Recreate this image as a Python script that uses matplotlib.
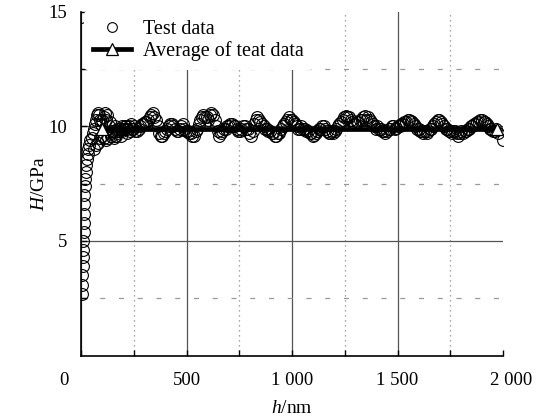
import matplotlib
matplotlib.use("Agg")
import matplotlib.pyplot as plt
from matplotlib.lines import Line2D
from matplotlib.transforms import ScaledTranslation

plt.rcParams['font.family'] = ['Liberation Serif', 'DejaVu Serif']
plt.rcParams['mathtext.fontset'] = 'custom'
plt.rcParams['mathtext.rm'] = 'Liberation Serif'
plt.rcParams['mathtext.it'] = 'Liberation Serif:italic'

# ---------------- data ----------------
# outlier near origin
h_out = [2]
H_out = [14.8]

# loading ramp (two overlapping tests)
h_ramp = [5, 6, 7, 8, 9, 10, 11, 12, 13, 14, 15, 16, 18, 20, 22, 25, 28, 31,
          35, 40, 45, 50, 55, 60, 65, 70, 75, 80, 85, 90, 95]
H_ramp = [2.7, 3.1, 3.5, 3.9, 4.3, 4.6, 5.0, 5.4, 5.8, 6.2, 6.6, 7.0, 7.4, 7.7,
          8.0, 8.3, 8.6, 8.8, 9.0, 9.2, 9.4, 9.5, 9.7, 9.9, 10.1, 10.3, 10.5,
          10.6, 10.5, 10.3, 10.1]

h_ramp2 = [60, 70, 80, 90, 100, 110, 120, 130, 140, 150, 160, 170, 180, 190,
           200, 215, 230, 245]
H_ramp2 = [9.0, 9.2, 9.3, 9.5, 9.6, 9.5, 9.4, 9.5, 9.6, 9.8, 10.0, 9.9, 9.8,
           9.6, 9.9, 10.0, 9.8, 9.9]

# plateau, test 1
h_flat = [100, 112, 124, 136, 148, 160, 172, 184, 196, 208,
          220, 235, 250, 265, 280, 295, 310, 325, 340, 355,
          370, 385, 400, 415, 430, 445, 460, 475, 490, 505,
          520, 535, 550, 565, 580, 595, 610, 625, 640, 655,
          670, 685, 700, 715, 730, 745, 760, 775, 790, 805,
          820, 835, 850, 865, 880, 895, 910, 925, 940, 955,
          970, 985, 1000, 1015, 1030, 1045, 1060, 1075, 1090, 1105,
          1120, 1135, 1150, 1165, 1180, 1195, 1210, 1225, 1240, 1255,
          1270, 1285, 1300, 1315, 1330, 1345, 1360, 1375, 1390, 1405,
          1420, 1435, 1450, 1465, 1480, 1495, 1510, 1525, 1540, 1555,
          1570, 1585, 1600, 1615, 1630, 1645, 1660, 1675, 1690, 1705,
          1720, 1735, 1750, 1765, 1780, 1795, 1810, 1825, 1840, 1855,
          1870, 1885, 1900, 1915, 1930, 1945, 1960, 1975, 2000]
H_flat = [10.3, 10.6, 10.5, 10.2, 9.8, 9.6, 9.7, 9.9, 9.8, 10.0,
          9.9, 10.1, 10.0, 9.8, 10.0, 10.1, 10.2, 10.4, 10.6, 10.3,
          9.7, 9.6, 9.8, 10.0, 10.1, 9.9, 9.8, 10.0, 9.9, 9.8,
          9.7, 9.6, 9.9, 10.3, 10.5, 10.4, 10.5, 10.5, 10.0, 9.6,
          9.8, 9.9, 10.0, 10.1, 10.0, 9.8, 9.9, 10.0, 9.9, 9.6,
          10.1, 10.4, 10.2, 10.0, 9.9, 9.8, 9.7, 9.6, 9.7, 10.0,
          10.2, 10.4, 10.3, 10.1, 9.9, 10.0, 9.9, 9.8, 9.7, 9.65,
          9.8, 9.9, 10.0, 9.8, 9.7, 9.7, 9.9, 10.1, 10.3, 10.45,
          10.4, 10.2, 10.1, 10.2, 10.3, 10.45, 10.4, 10.2, 10.0, 10.0,
          9.9, 9.8, 9.8, 9.9, 10.0, 9.95, 10.0, 10.1, 10.2, 10.3,
          10.2, 10.0, 9.9, 9.8, 9.8, 9.8, 9.9, 10.1, 10.3, 10.2,
          10.0, 9.9, 9.8, 9.8, 9.7, 9.7, 9.7, 9.8, 9.9, 10.0,
          10.1, 10.2, 10.3, 10.2, 10.0, 9.9, 9.8, 9.7, 9.4]

# plateau, test 2
h_flat2 = [108, 120, 132, 144, 156, 168, 180, 192, 204, 216,
           228, 243, 258, 273, 288, 303, 318, 333, 348, 363,
           378, 393, 408, 423, 438, 453, 468, 483, 498, 513,
           528, 543, 558, 573, 588, 603, 618, 633, 648, 663,
           678, 693, 708, 723, 738, 753, 768, 783, 798, 813,
           828, 843, 858, 873, 888, 903, 918, 933, 948, 963,
           978, 993, 1008, 1023, 1038, 1053, 1068, 1083, 1098, 1113,
           1128, 1143, 1158, 1173, 1188, 1203, 1218, 1233, 1248, 1263,
           1278, 1293, 1308, 1323, 1338, 1353, 1368, 1383, 1398, 1413,
           1428, 1443, 1458, 1473, 1488, 1503, 1518, 1533, 1548, 1563,
           1578, 1593, 1608, 1623, 1638, 1653, 1668, 1683, 1698, 1713,
           1728, 1743, 1758, 1773, 1788, 1803, 1818, 1833, 1848, 1863,
           1878, 1893, 1908, 1923, 1938, 1953, 1968]
H_flat2 = [10.4, 10.3, 10.0, 9.7, 9.5, 9.6, 9.8, 10.0, 9.9, 9.7,
           10.0, 9.9, 9.8, 9.9, 10.1, 10.2, 10.3, 10.5, 10.4, 10.0,
           9.6, 9.7, 9.9, 10.1, 10.0, 9.8, 9.9, 10.1, 9.8, 9.7,
           9.6, 9.8, 10.1, 10.4, 10.4, 10.3, 10.6, 10.3, 9.8, 9.7,
           9.9, 10.0, 10.1, 10.0, 9.9, 9.8, 10.0, 9.9, 9.7, 9.8,
           10.3, 10.3, 10.1, 9.9, 9.8, 9.7, 9.6, 9.7, 9.9, 10.1,
           10.3, 10.3, 10.2, 10.0, 9.9, 9.9, 9.8, 9.7, 9.6, 9.7,
           9.9, 10.0, 9.9, 9.7, 9.8, 9.8, 10.0, 10.2, 10.4, 10.4,
           10.3, 10.1, 10.2, 10.3, 10.4, 10.3, 10.3, 10.1, 9.9, 9.9,
           9.8, 9.7, 9.9, 10.0, 9.9, 10.0, 10.1, 10.2, 10.3, 10.25,
           10.1, 9.9, 9.8, 9.7, 9.7, 9.9, 10.0, 10.2, 10.3, 10.1,
           9.9, 9.8, 9.7, 9.8, 9.6, 9.8, 9.8, 9.9, 10.0, 10.1,
           10.2, 10.3, 10.2, 10.1, 9.9, 9.8, 9.9]

h_test = h_out + h_ramp + h_ramp2 + h_flat + h_flat2
H_test = H_out + H_ramp + H_ramp2 + H_flat + H_flat2

h_avg = [100, 1970]
H_avg = [9.9, 9.9]

x_ticks = [0, 500, 1000, 1500, 2000]
x_labels = ['0', '500', '1 000', '1 500', '2 000']
x_minor = [250, 750, 1250, 1750]
y_ticks = [5, 10, 15]
y_labels = ['5', '10', '15']
y_minor = [2.5, 7.5, 12.5]

# ---------------- figure ----------------
W, Hh = 542, 418
fig = plt.figure(figsize=(W / 100, Hh / 100), dpi=100)
ax = fig.add_axes([81 / W, 1 - 355.5 / Hh, (503 - 81) / W, (355.5 - 12) / Hh])

ax.set_xlim(0, 2000)
ax.set_ylim(0, 15)
ax.set_xticks(x_ticks)
ax.set_xticklabels(x_labels)
ax.set_xticks(x_minor, minor=True)
ax.set_yticks(y_ticks)
ax.set_yticklabels(y_labels)
ax.set_yticks(y_minor, minor=True)

for s in ['top', 'right']:
    ax.spines[s].set_visible(False)
ax.spines['left'].set_linewidth(1.2)
ax.spines['bottom'].set_linewidth(1.2)

ax.tick_params(which='both', direction='in', length=4.5, width=1.0,
               color='black', labelsize=13.5)
ax.tick_params(axis='x', which='major', pad=12)
ax.tick_params(axis='y', which='major', pad=10)

# grid
ax.grid(True, which='major', axis='both', color='#555555', lw=0.9, ls='-')
ax.grid(True, which='minor', axis='x', color='#888888', lw=0.9, ls=(0, (1, 3)))
ax.grid(True, which='minor', axis='y', color='#999999', lw=0.9, ls=(0, (4, 11)))
ax.xaxis.get_gridlines()[-1].set_visible(False)
ax.yaxis.get_gridlines()[-1].set_visible(False)
ax.set_axisbelow(True)

ax.plot(h_test, H_test, 'o', mfc='none', mec='black', ms=8.5, mew=0.8,
        zorder=3)
ax.plot(h_avg, H_avg, '-', color='black', lw=3.4, marker='^', mfc='white',
        mec='black', ms=9, mew=0.9, zorder=4)

ax.set_xlabel(r'$\mathit{h}$/nm', fontsize=14, labelpad=8)
ax.set_ylabel(r'$\mathit{H}$/GPa', fontsize=14, labelpad=0)

handles = [Line2D([], [], ls='none', marker='o', mfc='none', mec='black',
                  ms=7, mew=0.8),
           Line2D([], [], color='black', lw=3.4, marker='^', mfc='white',
                  mec='black', ms=9, mew=0.9)]
leg = fig.legend(handles, ['Test data', 'Average of teat data'],
                 loc='upper left', bbox_to_anchor=(84 / W, 1 - 11 / Hh),
                 frameon=True, facecolor='white', edgecolor='none',
                 framealpha=1, fontsize=14.5, handlelength=1.9,
                 handletextpad=0.6, labelspacing=0.1, borderpad=0.45,
                 borderaxespad=0, numpoints=1)
leg.set_zorder(10)

# shift first and last x tick labels as in the reference
ticks = ax.xaxis.get_major_ticks()
ticks[0].label1.set_transform(ticks[0].label1.get_transform() +
                              ScaledTranslation(-17 / 100, 0, fig.dpi_scale_trans))
ticks[-1].label1.set_transform(ticks[-1].label1.get_transform() +
                               ScaledTranslation(8 / 100, 0, fig.dpi_scale_trans))

fig.savefig('out.png', dpi=100)
